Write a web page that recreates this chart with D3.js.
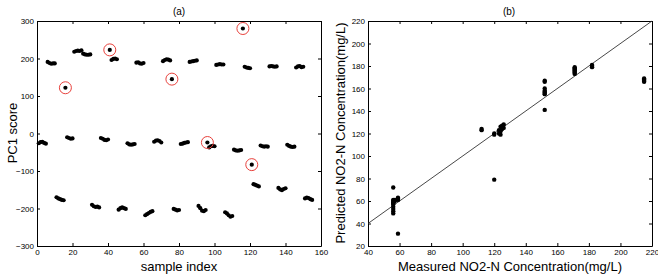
<!DOCTYPE html>
<html>
<head>
<meta charset="utf-8">
<script src="https://cdn.jsdelivr.net/npm/d3@7/dist/d3.min.js"></script>
<style>
  body { margin: 0; background: #fff; }
  svg { font-family: "Liberation Sans", Arial, sans-serif; }
  .tick text { font-size: 8px; fill: #000; }
  .domain, .tick line { stroke: #000; }
</style>
</head>
<body>
<svg width="658" height="275"></svg>
<script>
// panel (a): PC1 score per sample (index starts at 1)
var pcScore = [
  -26, -23, -22, -25, -27,
  191, 188, 186, 187, 187,
  -170, -173, -175, -177, -178,
  122,
  -10, -12, -14, -13,
  218, 220, 221, 220, 222,
  213, 211, 210, 210, 211,
  -190, -194, -196, -195, -197,
  -12, -14, -17, -18, -16,
  223,
  196, 199, 200, 198,
  -203, -199, -197, -199, -201,
  -26, -29, -30, -29, -28,
  189, 190, 187, 186, 188,
  -218, -215, -212, -209, -207,
  -22, -19, -18, -20, -24,
  193, 196, 198, 197, 195,
  145,
  -201, -203, -205, -204,
  -28, -27, -25, -24, -23,
  191, 192, 193, 194, 195,
  -193, -199, -206, -207, -204,
  -24,
  -37, -34, -33, -34,
  183, 184, 185, 184, 184,
  -210, -213, -218, -222, -220,
  -43, -45, -46, -45, -44,
  280,
  178, 176, 175, 174,
  -83,
  -135, -137, -139, -141,
  -32, -34, -35, -34, -35,
  179, 180, 179, 178, 179,
  -145, -149, -151, -148, -146,
  -30, -33, -35, -36, -35,
  176, 179, 180, 177, 178,
  -173, -171, -172, -175, -177
];
var outlierIdx = [16, 41, 76, 96, 116, 121];
var aXTicks = [0, 20, 40, 60, 80, 100, 120, 140, 160];
var aYTicks = [-300, -200, -100, 0, 100, 200, 300];

// panel (b): measured vs predicted NO2-N
var measured = [56, 56, 56, 56, 56, 56, 56, 56, 56, 56, 57, 57, 59, 59, 59, 59,
  112, 112, 120, 120, 120,
  123, 123, 124, 124, 124, 125, 125, 126, 126,
  152, 152, 152, 152, 152, 152, 152, 152,
  171, 171, 171, 171, 171, 171, 171,
  182, 182, 182,
  215, 215, 215, 215];
var predicted = [49, 51, 53, 55, 57, 58, 59, 60, 61, 72, 60, 61, 61, 62, 63, 31,
  123, 124, 120, 119, 79,
  120, 123, 126, 122, 119, 124, 127, 125, 128,
  167, 166, 160, 158, 157, 156, 155, 141,
  179, 178, 177, 176, 175, 174, 173,
  181, 180, 179,
  169, 168, 167, 166];
var bXTicks = [40, 60, 80, 100, 120, 140, 160, 180, 200, 220];
var bYTicks = [20, 40, 60, 80, 100, 120, 140, 160, 180, 200, 220];
var fitLine = [40, 220];

var svg = d3.select("svg");

function frame(g, x, y, xt, yt) {
  var w = x.range()[1] - x.range()[0], h = y.range()[0] - y.range()[1];
  g.append("g").attr("transform", "translate(0," + h + ")")
    .call(d3.axisBottom(x).tickValues(xt).tickSizeInner(-3).tickSizeOuter(0).tickPadding(3));
  g.append("g")
    .call(d3.axisLeft(y).tickValues(yt).tickSizeInner(-3).tickSizeOuter(0).tickPadding(3));
  g.append("g")
    .call(d3.axisTop(x).tickValues(xt).tickSizeInner(-3).tickSizeOuter(0).tickFormat(""));
  g.append("g").attr("transform", "translate(" + w + ",0)")
    .call(d3.axisRight(y).tickValues(yt).tickSizeInner(-3).tickSizeOuter(0).tickFormat(""));
  g.selectAll(".tick text").attr("font-size", null);
}

// ---- panel a
var ax = d3.scaleLinear().domain([0, 160]).range([0, 284]);
var ay = d3.scaleLinear().domain([-300, 300]).range([225, 0]);
var ga = svg.append("g").attr("transform", "translate(37,21)");
frame(ga, ax, ay, aXTicks, aYTicks);

ga.selectAll("circle.pt").data(pcScore).enter().append("circle")
  .attr("class", "pt")
  .attr("cx", function(d, i) { return ax(i + 1); })
  .attr("cy", function(d) { return ay(d); })
  .attr("r", 2.1).attr("fill", "#000");

ga.selectAll("circle.ring").data(outlierIdx).enter().append("circle")
  .attr("class", "ring")
  .attr("cx", function(d) { return ax(d); })
  .attr("cy", function(d) { return ay(pcScore[d - 1]); })
  .attr("r", 6).attr("fill", "none").attr("stroke", "#e8413c").attr("stroke-width", 1);

svg.append("text").attr("x", 179).attr("y", 15).attr("text-anchor", "middle")
  .attr("font-size", "10px").text("(a)");
svg.append("text").attr("x", 179).attr("y", 271).attr("text-anchor", "middle")
  .attr("font-size", "13px").text("sample index");
svg.append("text").attr("transform", "translate(17,133) rotate(-90)").attr("text-anchor", "middle")
  .attr("font-size", "13px").text("PC1 score");

// ---- panel b
var bx = d3.scaleLinear().domain([40, 220]).range([0, 284]);
var by = d3.scaleLinear().domain([20, 220]).range([225, 0]);
var gb = svg.append("g").attr("transform", "translate(368,21)");
frame(gb, bx, by, bXTicks, bYTicks);

gb.append("line")
  .attr("x1", bx(fitLine[0])).attr("y1", by(fitLine[0]))
  .attr("x2", bx(fitLine[1])).attr("y2", by(fitLine[1]))
  .attr("stroke", "#333").attr("stroke-width", 0.9);

gb.selectAll("circle.pt").data(measured).enter().append("circle")
  .attr("class", "pt")
  .attr("cx", function(d) { return bx(d); })
  .attr("cy", function(d, i) { return by(predicted[i]); })
  .attr("r", 2.2).attr("fill", "#000");

svg.append("text").attr("x", 509).attr("y", 15).attr("text-anchor", "middle")
  .attr("font-size", "10px").text("(b)");
svg.append("text").attr("x", 510).attr("y", 271).attr("text-anchor", "middle")
  .attr("font-size", "13px").text("Measured NO2-N Concentration(mg/L)");
svg.append("text").attr("transform", "translate(345,133) rotate(-90)").attr("text-anchor", "middle")
  .attr("font-size", "13px").text("Predicted NO2-N Concentration(mg/L)");
</script>
</body>
</html>
